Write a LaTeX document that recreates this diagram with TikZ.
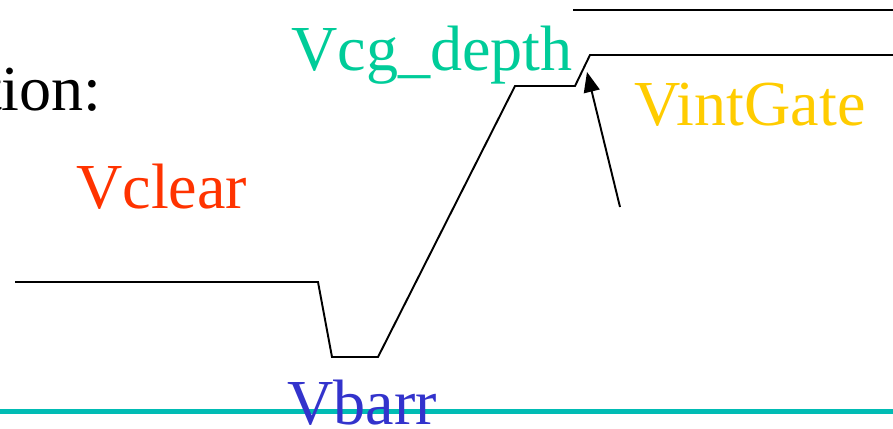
\documentclass[tikz,border=0pt]{standalone}
\usepackage{fontspec}
\setmainfont{Liberation Serif}
\usetikzlibrary{arrows.meta}
\definecolor{clearred}{RGB}{255,51,0}
\definecolor{depthgreen}{RGB}{0,204,153}
\definecolor{gateyellow}{RGB}{255,204,0}
\definecolor{barrblue}{RGB}{51,51,204}
\definecolor{baseteal}{RGB}{0,188,180}
\begin{document}
\begin{tikzpicture}[
    lbl/.style={font=\fontsize{36.5}{40}\selectfont, inner sep=0pt, anchor=base west},
    wave/.style={line width=1.1pt, line join=miter},
    arrow/.style={-{Triangle[length=4mm,width=3.2mm]}, line width=1.1pt}
]
\clip (0,0) rectangle (17.86,8.56);
\useasboundingbox (0,0) rectangle (17.86,8.56);

% Potential profile
\coordinate (w0) at (0.30,2.92);
\coordinate (w1) at (6.36,2.92);
\coordinate (w2) at (6.64,1.42);
\coordinate (w3) at (7.56,1.42);
\coordinate (w4) at (10.30,6.84);
\coordinate (w5) at (11.50,6.84);
\coordinate (w6) at (11.80,7.46);
\coordinate (w7) at (17.90,7.46);
\draw[wave] (w0) -- (w1) -- (w2) -- (w3) -- (w4) -- (w5) -- (w6) -- (w7);

% Upper level
\coordinate (t0) at (11.46,8.36);
\coordinate (t1) at (17.90,8.36);
\draw[line width=0.8pt] (t0) -- (t1);

% Base line
\coordinate (b0) at (-0.10,0.33);
\coordinate (b1) at (17.90,0.33);
\draw[baseteal, line width=2.3pt] (b0) -- (b1);

% Labels
\node[lbl, anchor=base east] (title) at (2.04,6.36) {tion:};
\node[lbl, clearred] (vclear) at (1.52,4.40) {Vclear};
\node[lbl, depthgreen] (vcg) at (5.82,7.16) {Vcg\_depth};
\node[lbl, gateyellow] (vint) at (12.68,6.06) {VintGate};
\node[lbl, barrblue] (vbarr) at (5.74,0.08) {Vbarr};

% Pointer to the step
\coordinate (a0) at (12.40,4.42);
\coordinate (a1) at (11.74,7.12);
\draw[arrow] (a0) -- (a1);
\end{tikzpicture}
\end{document}
